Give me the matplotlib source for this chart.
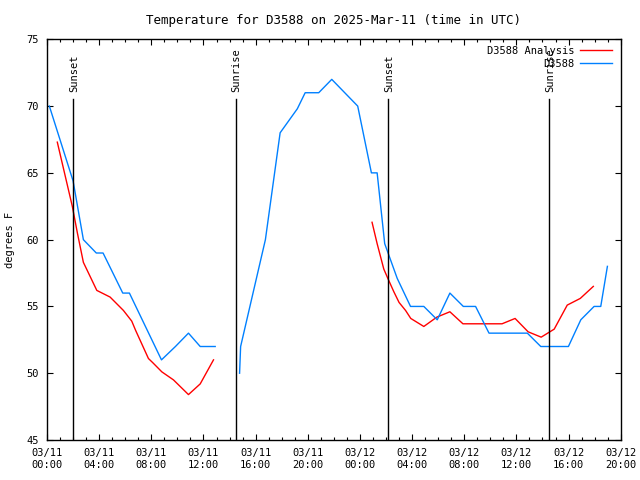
import numpy as np
import matplotlib
matplotlib.use("Agg")
import matplotlib.pyplot as plt
from matplotlib.ticker import MultipleLocator

# ---- data (hours since 2025-03-11 00:00 UTC) ----
obs_hours = [0.18, 2.0, 2.79, 3.78, 4.3, 5.81, 6.32, 8.78, 9.85, 10.85, 11.75, 12.9,
             np.nan,
             14.77, 14.85, 16.75, 17.88, 19.2, 19.8, 20.84, 21.84, 23.83, 24.88, 25.32,
             25.9, 26.86, 27.88, 28.9, 29.93, 30.9, 31.93, 32.87, 33.9, 36.84, 37.87,
             39.99, 40.94, 41.96, 42.47, 42.98]
obs_temp = [70, 64.4, 60, 59, 59, 56, 56, 51, 52, 53, 52, 52,
            np.nan,
            50, 52, 60, 68, 69.8, 71, 71, 72, 70, 65, 65,
            59.7, 57.1, 55, 55, 54, 56, 55, 55, 53, 53, 52,
            52, 54, 55, 55, 58]

ana_hours = [0.79, 1.94, 2.33, 2.79, 3.82, 4.84, 5.86, 6.5, 6.8, 7.78, 8.1, 8.81, 9.7,
             10.85, 11.75, 12.77,
             np.nan,
             24.93, 25.32, 25.83, 26.14, 26.6, 27.0, 27.5, 27.9, 28.9, 29.9, 30.9, 31.9,
             32.9, 33.9, 34.9, 35.9, 36.9, 37.9, 38.9, 39.9, 40.9, 41.9]
ana_temp = [67.3, 62.5, 60.5, 58.3, 56.2, 55.7, 54.7, 53.9, 53.2, 51.1, 50.8, 50.1, 49.5,
            48.4, 49.2, 51.0,
            np.nan,
            61.3, 59.7, 57.8, 57.1, 56.1, 55.3, 54.7, 54.1, 53.5, 54.2, 54.6, 53.7,
            53.7, 53.7, 53.7, 54.1, 53.1, 52.7, 53.3, 55.1, 55.6, 56.5]

sun_hours = [2.02, 14.46, 26.14, 38.51]
sun_labels = ["Sunset", "Sunrise", "Sunset", "Sunrise"]

xtick_hours = [0, 4, 8, 12, 16, 20, 24, 28, 32, 36, 40, 44]
xtick_labels = ["03/11\n00:00", "03/11\n04:00", "03/11\n08:00", "03/11\n12:00",
                "03/11\n16:00", "03/11\n20:00", "03/12\n00:00", "03/12\n04:00",
                "03/12\n08:00", "03/12\n12:00", "03/12\n16:00", "03/12\n20:00"]
yticks = [45, 50, 55, 60, 65, 70, 75]

plt.rcParams['font.family'] = ['DejaVu Sans Mono']
plt.rcParams['font.size'] = 7.5

fig = plt.figure(figsize=(6.4, 4.8), dpi=100)
ax = fig.add_axes([47/640, 40/480, (620.7-47)/640, (440-39.3)/480])

ax.plot(ana_hours, ana_temp, color='#ff0000', lw=1.0, label='D3588 Analysis')
ax.plot(obs_hours, obs_temp, color='#0080ff', lw=1.0, label='D3588')

for h, lab in zip(sun_hours, sun_labels):
    ax.plot([h, h], [45, 70.55], color='black', lw=1.0)
    ax.text(h + 0.08, 71.05, lab, rotation=90, ha='center', va='bottom')

ax.set_xlim(0, 44)
ax.set_ylim(45, 75)
ax.set_xticks(xtick_hours)
ax.set_xticklabels(xtick_labels)
ax.xaxis.set_minor_locator(MultipleLocator(1))
ax.set_yticks(yticks)

ax.tick_params(which='both', direction='in', top=True, right=True, colors='black')
ax.tick_params(which='major', length=4, width=0.8, pad=6)
ax.tick_params(which='minor', length=2, width=0.8)
for s in ax.spines.values():
    s.set_linewidth(1.0)

ax.set_ylabel('degrees F', labelpad=8)
ax.set_title('Temperature for D3588 on 2025-Mar-11 (time in UTC)', pad=11)

ax.legend(loc='upper right', frameon=False, markerfirst=False, handlelength=3.0,
          borderaxespad=0.2, labelspacing=0.3, handletextpad=0.6,
          bbox_to_anchor=(0.995, 1.0))

fig.savefig('out.png', dpi=100)
